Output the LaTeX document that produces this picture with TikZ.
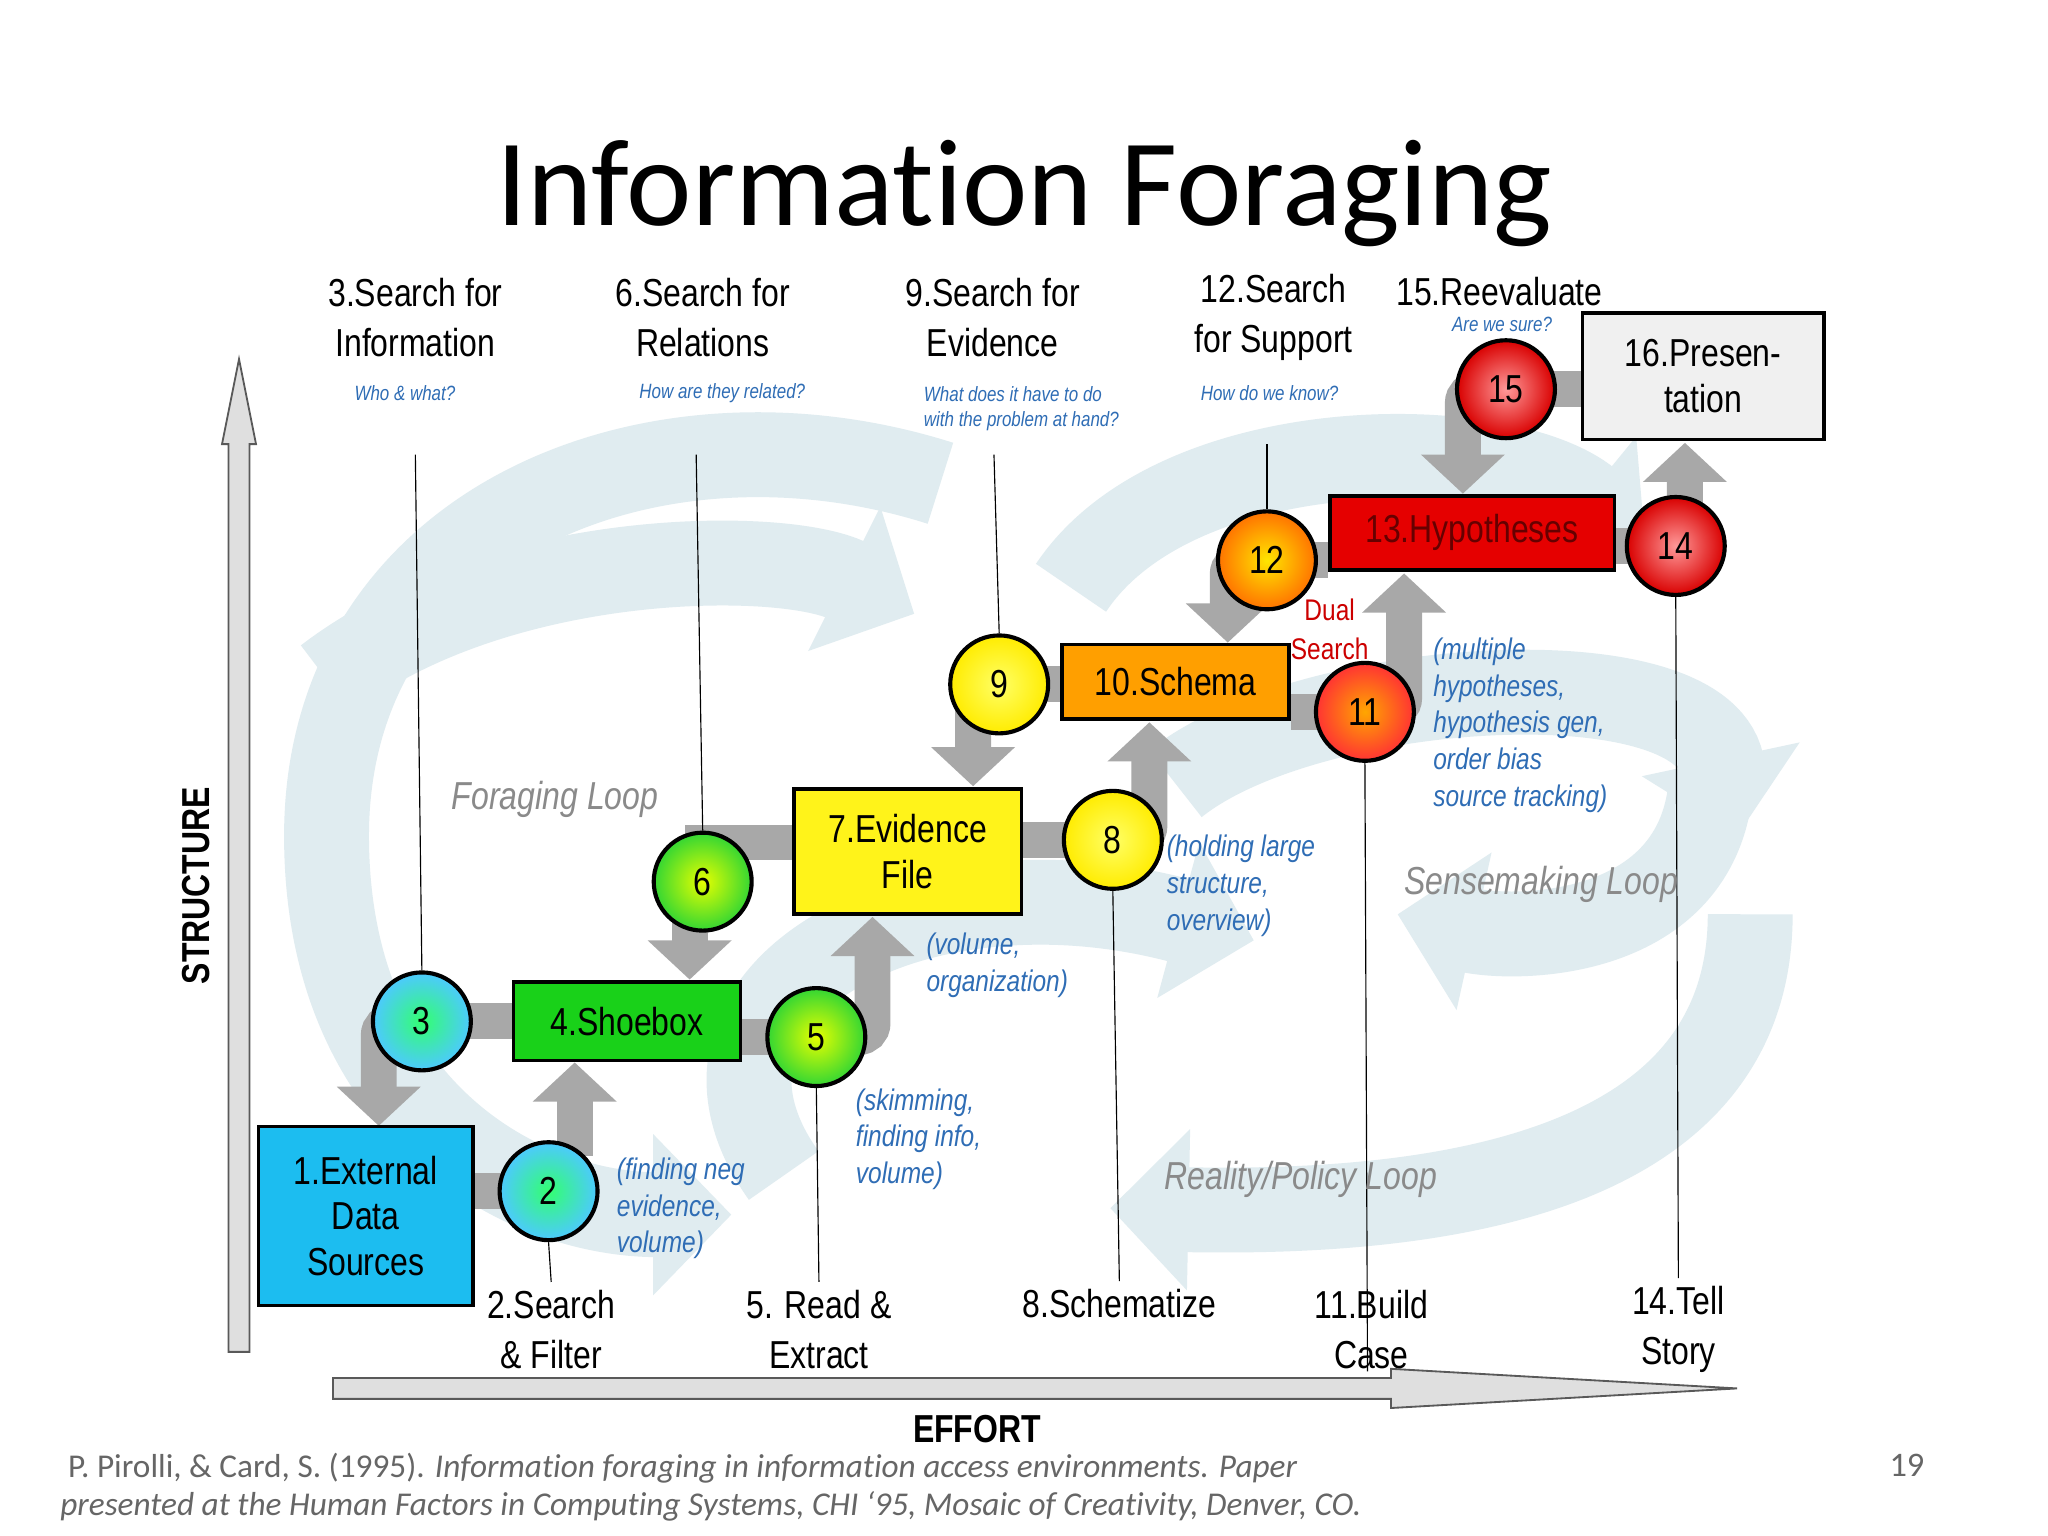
\documentclass[tikz,border=0pt]{standalone}
\usepackage{fontspec}
\setmainfont{Carlito}[Ligatures={NoCommon}]
\newfontfamily\nar[FakeStretch=0.82]{Liberation Sans}
\usetikzlibrary{arrows.meta}
\definecolor{swirl}{HTML}{E0ECF0}
\definecolor{band}{HTML}{A8A8A8}
\definecolor{note}{HTML}{2F6DB5}
\definecolor{loopc}{HTML}{8A8A8A}
\definecolor{cyanbox}{HTML}{1CBDF0}
\tikzset{
 bgarc/.style={swirl,line width=1.3cm,-{Triangle[width=2.4cm,length=1.2cm]}},
 bnd/.style={band,line width=0.55cm},
 barr/.style={band,line width=0.55cm,-{Triangle[width=1.25cm,length=0.6cm]}},
 boxn/.style={draw,line width=1.6pt,font=\nar\fontsize{17}{20}\selectfont,align=center,inner sep=0pt},
 circ/.style={circle,draw,line width=1.8pt,minimum size=1.5cm,inner sep=0pt,font=\nar\fontsize{17}{20}\selectfont},
 lbl/.style={font=\nar\fontsize{17}{22}\selectfont,align=center},
 qn/.style={font=\nar\itshape\fontsize{9}{11}\selectfont,text=note,align=left},
 nt/.style={font=\nar\itshape\fontsize{13}{16}\selectfont,text=note,align=left,anchor=north west,inner sep=0pt},
 lp/.style={font=\nar\itshape\fontsize{17}{20}\selectfont,text=loopc},
 vl/.style={black,line width=0.5pt},
}
\begin{document}
\begin{tikzpicture}[x=0.02cm,y=-0.02cm]
\useasboundingbox[fill=white] (0,0) rectangle (1568,1176);
% background swirls
\draw[bgarc] (720,370) .. controls (500,300) and (250,400) .. (250,640) .. controls (250,850) and (400,930) .. (560,930);
\draw[bgarc] (250,520) .. controls (380,420) and (600,420) .. (700,470);
\draw[bgarc] (820,450) .. controls (900,330) and (1150,330) .. (1260,420);
\draw[bgarc] (1310,600) .. controls (1300,720) and (1160,720) .. (1070,700);
\draw[bgarc] (900,600) .. controls (1000,520) and (1300,500) .. (1330,640);
\draw[bgarc] (1340,700) .. controls (1340,900) and (1100,930) .. (850,925);
\draw[bgarc] (600,900) .. controls (500,760) and (700,650) .. (960,720);
% axes
\draw[gray!70!black,fill=gray!25,line width=0.8pt] (175,1035) -- (175,340) -- (170,340) -- (183,275) -- (196,340) -- (191,340) -- (191,1035) -- cycle;
\draw[gray!70!black,fill=gray!25,line width=0.8pt] (255,1055) -- (1065,1055) -- (1065,1048) -- (1330,1063) -- (1065,1078) -- (1065,1071) -- (255,1071) -- cycle;
\node[font=\nar\bfseries\fontsize{17}{20}\selectfont,rotate=90] (st) at (150,678) {STRUCTURE};
\node[font=\nar\bfseries\fontsize{17}{20}\selectfont] (ef) at (748,1094) {EFFORT};
% title
\node[font=\fontsize{54}{60}\selectfont] (title) at (784,148) {Information Foraging};
% circle coordinates
\coordinate (p2) at (420,912); \coordinate (p3) at (323,782); \coordinate (p5) at (625,794);
\coordinate (p6) at (538,675); \coordinate (p8) at (852,643); \coordinate (p9) at (765,524);
\coordinate (p11) at (1045,545); \coordinate (p12) at (970,429); \coordinate (p14) at (1283,418);
\coordinate (p15) at (1153,298);
% boxes (first pass, for anchors)
\node[boxn,fill=cyanbox,minimum width=3.28cm,minimum height=2.74cm] (n1) at (280,931) {1.External\\Data\\Sources};
\node[boxn,fill=green!80!black!90,minimum width=3.48cm,minimum height=1.2cm] (n4) at (480,782) {4.Shoebox};
\node[boxn,fill=yellow!90,minimum width=3.48cm,minimum height=1.92cm] (n7) at (695,652) {7.Evidence\\File};
\node[boxn,fill=orange!75!yellow,minimum width=3.48cm,minimum height=1.14cm] (n10) at (900,522) {10.Schema};
\node[boxn,fill=red!90!black,text=red!40!black,minimum width=4.36cm,minimum height=1.14cm] (n13) at (1127,408) {13.Hypotheses};
\node[boxn,fill=gray!12,minimum width=3.7cm,minimum height=1.94cm] (n16) at (1304,288) {16.Presen-\\tation};
% bands
\draw[bnd] (n1.east |- p2) -- (p2);
\draw[barr] (440,885) -- (n4.south -| 440,0);
\draw[bnd] (p3) -- (n4.west |- p3);
\draw[barr,rounded corners=6] (p3) -- (290,782) -- (290,862);
\draw[bnd] (n4.east |- p5) -- (p5);
\draw[barr,rounded corners=6] (p5) -- (668,794) -- (668,702);
\draw[bnd] (p6) -- (538,645) -- (n7.west |- 0,645);
\draw[barr] (528,705) -- (528,750);
\draw[bnd] (n7.east |- p8) -- (p8);
\draw[barr,rounded corners=6] (p8) -- (880,643) -- (880,553);
\draw[bnd] (p9) -- (n10.west |- p9);
\draw[barr,rounded corners=6] (p9) -- (745,524) -- (745,602);
\draw[bnd] (n10.east |- p11) -- (p11);
\draw[barr,rounded corners=6] (p11) -- (1075,545) -- (1075,439);
\draw[bnd] (p12) -- (n13.west |- p12);
\draw[barr,rounded corners=6] (p12) -- (940,429) -- (940,492);
\draw[bnd] (n13.east |- p14) -- (p14);
\draw[barr,rounded corners=6] (p14) -- (1290,418) -- (1290,339);
\draw[bnd] (p15) -- (n16.west |- p15);
\draw[barr,rounded corners=6] (p15) -- (1120,298) -- (1120,378);
% redraw boxes on top
\node[boxn,fill=cyanbox,minimum width=3.28cm,minimum height=2.74cm] at (280,931) {1.External\\Data\\Sources};
\node[boxn,fill=green!80!black!90,minimum width=3.48cm,minimum height=1.2cm] at (480,782) {4.Shoebox};
\node[boxn,fill=yellow!90,minimum width=3.48cm,minimum height=1.92cm] at (695,652) {7.Evidence\\File};
\node[boxn,fill=orange!75!yellow,minimum width=3.48cm,minimum height=1.14cm] at (900,522) {10.Schema};
\node[boxn,fill=red!90!black,text=red!40!black,minimum width=4.36cm,minimum height=1.14cm] at (1127,408) {13.Hypotheses};
\node[boxn,fill=gray!12,minimum width=3.7cm,minimum height=1.94cm] at (1304,288) {16.Presen-\\tation};
% circles
\node[circ,inner color=green!70!cyan!80,outer color=cyan!70!blue!70] (c2) at (p2) {2};
\node[circ,inner color=green!70!cyan!80,outer color=cyan!70!blue!70] (c3) at (p3) {3};
\node[circ,inner color=yellow!90!green,outer color=green!80!black!80] (c5) at (p5) {5};
\node[circ,inner color=yellow!90!green,outer color=green!80!black!80] (c6) at (p6) {6};
\node[circ,inner color=yellow!60,outer color=yellow!85!orange] (c8) at (p8) {8};
\node[circ,inner color=yellow!60,outer color=yellow!85!orange] (c9) at (p9) {9};
\node[circ,inner color=orange!70!yellow,outer color=red!80] (c11) at (p11) {11};
\node[circ,inner color=yellow!80!orange,outer color=orange!90!red] (c12) at (p12) {12};
\node[circ,inner color=red!40,outer color=red!85!black] (c14) at (p14) {14};
\node[circ,inner color=red!40,outer color=red!85!black] (c15) at (p15) {15};
% top labels
\node[lbl] (t3) at (318,243) {3.Search for\\Information};
\node[qn] (q3) at (310,301) {Who \& what?};
\node[lbl] (t6) at (538,243) {6.Search for\\Relations};
\node[qn] (q6) at (553,301) {How are they related?};
\node[lbl] (t9) at (760,243) {9.Search for\\Evidence};
\node[qn] (q9) at (782,313) {What does it have to do\\with the problem at hand?};
\node[lbl] (t12) at (975,243) {12.Search\\for Support};
\node[qn] (q12) at (972,301) {How do we know?};
\node[lbl] (t15) at (1148,223) {15.Reevaluate};
\node[qn] (q15) at (1150,248) {Are we sure?};
% bottom labels
\node[lbl] (s2) at (422,1018) {2.Search\\\& Filter};
\node[lbl] (s5) at (627,1018) {5. Read \&\\Extract};
\node[lbl] (s8) at (857,998) {8.Schematize};
\node[lbl] (s11) at (1050,1018) {11.Build\\Case};
\node[lbl] (s14) at (1285,1018) {14.Tell\\Story};
% thin lines
\coordinate (l3) at (318,348); \coordinate (l6) at (533,348);
\coordinate (l9) at (761,348); \coordinate (l12) at (970,340);
\coordinate (e11) at (1047,1050);
\draw[vl] (l3) -- (c3.north);
\draw[vl] (l6) -- (c6.north);
\draw[vl] (l9) -- (c9.north);
\draw[vl] (l12) -- (c12.north);
\draw[vl] (c2.south) -- (s2.north);
\draw[vl] (c5.south) -- (s5.north);
\draw[vl] (c8.south) -- (s8.north);
\draw[vl] (c11.south) -- (e11);
\draw[vl] (c14.south) -- (s14.north);
% notes
\node[nt] (m2) at (472,886) {(finding neg\\evidence,\\volume)};
\node[nt] (m5) at (655,833) {(skimming,\\finding info,\\volume)};
\node[nt] (m7) at (709,714) {(volume,\\organization)};
\node[nt] (m8) at (893,639) {(holding large\\structure,\\overview)};
\node[nt] (m11) at (1097,488) {(multiple\\hypotheses,\\hypothesis gen,\\order bias\\source tracking)};
\node[font=\nar\fontsize{13}{17}\selectfont,text=red!80!black,align=center] (ds) at (1018,482) {Dual\\Search};
% loop labels
\node[lp] (fl) at (425,612) {Foraging Loop};
\node[lp] (sl) at (1180,677) {Sensemaking Loop};
\node[lp] (rl) at (996,903) {Reality/Policy Loop};
% citation
\node[anchor=west,text=gray!80!black,font=\fontsize{14.5}{18}\selectfont] (cit1) at (46,1124) {P. Pirolli, \& Card, S. (1995). \textit{Information foraging in information access environments. Paper}};
\node[anchor=west,text=gray!80!black,font=\itshape\fontsize{14.5}{18}\selectfont] (cit2) at (40,1153) {presented at the Human Factors in Computing Systems, CHI ‘95, Mosaic of Creativity, Denver, CO.};
\node[text=gray!80!black,font=\fontsize{15}{18}\selectfont] (pg) at (1460,1122) {19};
\end{tikzpicture}
\end{document}
